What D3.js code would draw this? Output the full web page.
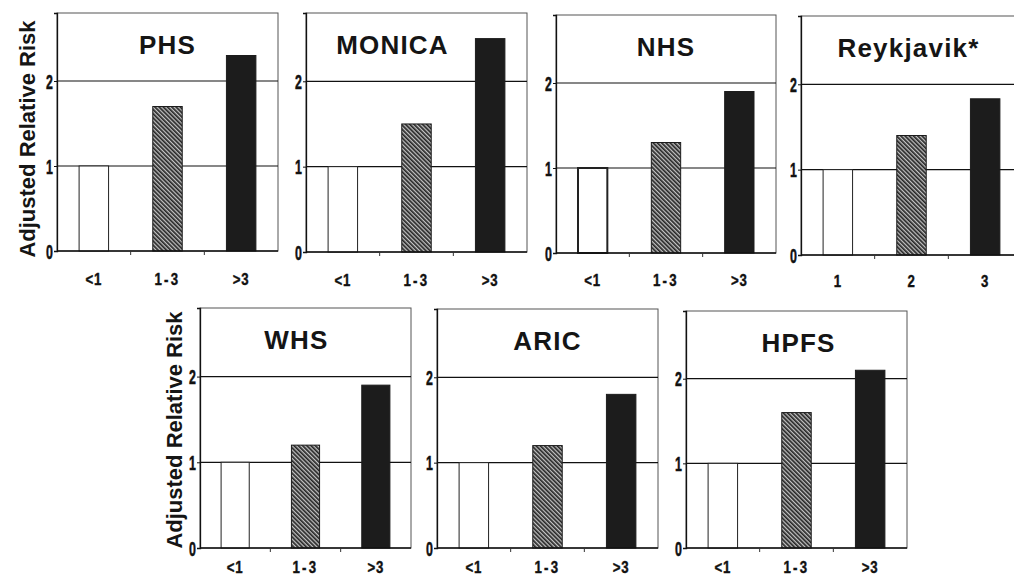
<!DOCTYPE html>
<html><head><meta charset="utf-8">
<script src="https://cdn.jsdelivr.net/npm/d3@7"></script>
<style>
body{margin:0;background:#fff;}
svg{display:block;}
</style></head>
<body>
<svg id="c" width="1014" height="582"></svg>
<script>
// ---- data ----
const studies = ["PHS","MONICA","NHS","Reykjavik*","WHS","ARIC","HPFS"];
const categoriesStd = ["<1","1-3",">3"];
const categoriesReyk = ["1","2","3"];
const valuesPHS = [1.0, 1.7, 2.3];
const valuesMONICA = [1.0, 1.5, 2.5];
const valuesNHS = [1.0, 1.3, 1.9];
const valuesReykjavik = [1.0, 1.4, 1.83];
const valuesWHS = [1.0, 1.2, 1.9];
const valuesARIC = [1.0, 1.2, 1.8];
const valuesHPFS = [1.0, 1.6, 2.1];
const yTicks = [0, 1, 2];
const yAxisTitle = "Adjusted Relative Risk";

const seriesValues = [valuesPHS, valuesMONICA, valuesNHS, valuesReykjavik, valuesWHS, valuesARIC, valuesHPFS];
const seriesCats = [categoriesStd, categoriesStd, categoriesStd, categoriesReyk, categoriesStd, categoriesStd, categoriesStd];

// ---- layout (pixels) ----
const layout = [
  {x0:57,  x1:278,  y0:13,  y1:251, tdx:0,   ldy:34},
  {x0:306, x1:527,  y0:13,  y1:252, tdx:-24, ldy:34},
  {x0:556, x1:776,  y0:15,  y1:253, tdx:0,   ldy:33},
  {x0:801, x1:1022, y0:16,  y1:255, tdx:-3,  ldy:32},
  {x0:200, x1:411,  y0:308, y1:548, tdx:-9,  ldy:25},
  {x0:437, x1:658,  y0:309, y1:548, tdx:0,   ldy:25},
  {x0:686, x1:907,  y0:311, y1:548, tdx:2,   ldy:25}
];

const svg = d3.select("#c");
const defs = svg.append("defs");
const pat = defs.append("pattern").attr("id","hatch").attr("patternUnits","userSpaceOnUse")
  .attr("width",3).attr("height",3).attr("patternTransform","rotate(-45)");
pat.append("rect").attr("width",3).attr("height",3).attr("fill","#c4c4c4");
pat.append("rect").attr("width",1.7).attr("height",3).attr("fill","#262626");

const sans = "'Liberation Sans',Arial,sans-serif";

studies.forEach((name, i) => {
  const L = layout[i];
  const vals = seriesValues[i];
  const cats = seriesCats[i];
  const x = d3.scaleBand().domain(cats).range([L.x0, L.x1]).paddingInner(0.6).paddingOuter(0.3);
  const y = d3.scaleLinear().domain([0, 2.8]).range([L.y1, L.y0]);
  const g = svg.append("g");

  // frame
  g.append("rect").attr("x",L.x0).attr("y",L.y0).attr("width",L.x1-L.x0).attr("height",L.y1-L.y0)
    .attr("fill","none").attr("stroke","#555").attr("stroke-width",1);

  // gridlines
  g.selectAll("line.grid").data(yTicks.filter(t=>t>0)).join("line").attr("class","grid")
    .attr("x1",L.x0).attr("x2",L.x1).attr("y1",d=>y(d)).attr("y2",d=>y(d))
    .attr("stroke","#111").attr("stroke-width",1.2);

  // bars
  g.selectAll("rect.bar").data(vals).join("rect").attr("class","bar")
    .attr("x",(d,j)=>x(cats[j])).attr("width",x.bandwidth())
    .attr("y",d=>y(d)).attr("height",d=>y(0)-y(d))
    .attr("fill",(d,j)=> j===0 ? "#fff" : (j===1 ? "url(#hatch)" : "#1c1c1c"))
    .attr("stroke",(d,j)=> j===0 ? "#222" : "#1c1c1c")
    .attr("stroke-width",(d,j)=> (j===0 && name==="NHS") ? 2 : 1);

  // x axis
  const xAxis = g.append("g").attr("transform",`translate(0,${L.y1})`);
  xAxis.append("line").attr("x1",L.x0).attr("x2",L.x1).attr("y1",0).attr("y2",0).attr("stroke","#111").attr("stroke-width",1.3);
  const bounds = [1,2].map(k => x(cats[k]) - x.step()*x.paddingInner()/2);
  xAxis.selectAll("line.t").data(bounds).join("line").attr("class","t")
    .attr("x1",d=>d).attr("x2",d=>d).attr("y1",0).attr("y2",4).attr("stroke","#333");
  xAxis.selectAll("text").data(cats).join("text")
    .attr("transform",d=>`translate(${x(d)+x.bandwidth()/2},${L.ldy}) scale(0.78,1)`)
    .attr("text-anchor","middle").attr("font-family",sans).attr("font-weight","bold")
    .attr("font-size",17).attr("letter-spacing",d=>d.length>2?3:1)
    .attr("fill","#111").attr("stroke","#111").attr("stroke-width",0.4).text(d=>d);

  // y axis
  const yAxis = g.append("g").attr("transform",`translate(${L.x0},0)`)
    .call(d3.axisLeft(y).tickValues(yTicks).tickSize(3).tickFormat(d3.format("d")));
  yAxis.select(".domain").attr("stroke","#111").attr("stroke-width",1.3);
  yAxis.selectAll("line").attr("stroke","#111");
  yAxis.selectAll("text")
    .attr("x",null).attr("dy",null)
    .attr("transform",`translate(-4,7) scale(0.62,1)`)
    .attr("font-family",sans).attr("font-weight","bold")
    .attr("font-size",20).attr("fill","#111").attr("stroke","#111").attr("stroke-width",0.5);

  // title
  g.append("text").attr("x",(L.x0+L.x1)/2 + L.tdx).attr("y",L.y0+41)
    .attr("text-anchor","middle").attr("font-family",sans)
    .attr("font-weight","bold").attr("font-size",26).attr("letter-spacing",1.2)
    .attr("fill","#151515").text(name);
});

// y-axis titles
[{cx:28, cy:139},{cx:175, cy:430}].forEach(p => {
  svg.append("text").attr("transform",`translate(${p.cx+7},${p.cy}) rotate(-90)`)
    .attr("text-anchor","middle").attr("font-family",sans)
    .attr("font-weight","bold").attr("font-size",22).attr("fill","#151515").text(yAxisTitle);
});
</script>
</body></html>
